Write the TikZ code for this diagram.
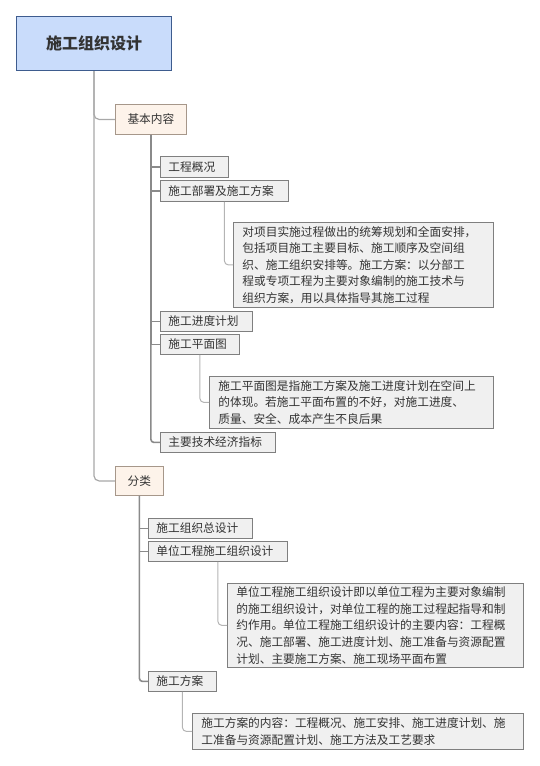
\documentclass[tikz,border=0pt]{standalone}
\usepackage{fontspec}
\setmainfont{Noto Sans CJK SC}
\definecolor{rootfill}{HTML}{C9DCFB}
\definecolor{rootdraw}{HTML}{3E5C8E}
\definecolor{catfill}{HTML}{FDF3EA}
\definecolor{catdraw}{HTML}{A6978A}
\definecolor{boxfill}{HTML}{F0F0F0}
\definecolor{boxdraw}{HTML}{7F7F7F}
\definecolor{txt}{HTML}{333333}
\definecolor{trunkA}{HTML}{A8A8A8}
\definecolor{trunkB}{HTML}{8A8A8A}
\definecolor{trunkC}{HTML}{B4B4B4}
\tikzset{
  base/.style={anchor=north west, inner sep=0pt, text=txt},
  rootbox/.style={base, draw=rootdraw, fill=rootfill, line width=1pt, font=\fontsize{16}{18}\selectfont\bfseries},
  catbox/.style={base, draw=catdraw, fill=catfill, line width=0.8pt, font=\fontsize{11.7}{14}\selectfont},
  itembox/.style={base, draw=boxdraw, fill=boxfill, line width=0.8pt, font=\fontsize{11.7}{14}\selectfont, align=left, text width=#1, inner xsep=8pt},
  descbox/.style={base, draw=boxdraw, fill=boxfill, line width=0.8pt, font=\fontsize{11.7}{16.6}\selectfont, align=left, text width=#1, inner xsep=9pt},
  lineA/.style={draw=trunkA, line width=1.2pt, rounded corners=5pt},
  lineB/.style={draw=trunkB, line width=1.6pt, rounded corners=3pt},
  lineC/.style={draw=trunkC, line width=1pt, rounded corners=4pt},
}
\begin{document}
\begin{tikzpicture}[x=1pt,y=-1pt]
\useasboundingbox (0,0) rectangle (539,766);
% nodes
\node[rootbox, minimum width=155, minimum height=54] (root) at (16,16) {施工组织设计};
\node[catbox, minimum width=71, minimum height=30] (jb) at (115,104) {基本内容};
\node[itembox=52, minimum height=21] (gk) at (160,156) {工程概况};
\node[itembox=112, minimum height=21] (bs) at (160,180) {施工部署及施工方案};
\node[descbox=242, minimum height=85] (d1) at (233,222) {对项目实施过程做出的统筹规划和全面安排，\\包括项目施工主要目标、施工顺序及空间组\\织、施工组织安排等。施工方案：以分部工\\程或专项工程为主要对象编制的施工技术与\\组织方案，用以具体指导其施工过程};
\node[itembox=76, minimum height=20] (jd) at (160,311) {施工进度计划};
\node[itembox=63, minimum height=20] (pm) at (160,334) {施工平面图};
\node[descbox=266, minimum height=52] (d2) at (209,376) {施工平面图是指施工方案及施工进度计划在空间上\\的体现。若施工平面布置的不好，对施工进度、\\质量、安全、成本产生不良后果};
\node[itembox=99, minimum height=20] (zb) at (160,432) {主要技术经济指标};
\node[catbox, minimum width=48, minimum height=29] (fl) at (115,466) {分类};
\node[itembox=88, minimum height=20] (zs) at (148,518) {施工组织总设计};
\node[itembox=123, minimum height=20] (dw) at (148,541) {单位工程施工组织设计};
\node[descbox=278, minimum height=84] (d3) at (227,583) {单位工程施工组织设计即以单位工程为主要对象编制\\的施工组织设计，对单位工程的施工过程起指导和制\\约作用。单位工程施工组织设计的主要内容：工程概\\况、施工部署、施工进度计划、施工准备与资源配置\\计划、主要施工方案、施工现场平面布置};
\node[itembox=52, minimum height=20] (fa) at (148,671) {施工方案};
\node[descbox=313, minimum height=36] (d4) at (192,713) {施工方案的内容：工程概况、施工安排、施工进度计划、施\\工准备与资源配置计划、施工方法及工艺要求};
% connectors
\path[lineA] (root.south) |- (fl.west);
\path[lineA] (root.south) |- (jb.west);
\path[lineB] (jb.south) |- (zb.west);
\path[lineB,rounded corners=0pt] (jb.south) |- (gk.west);
\path[lineB,rounded corners=0pt] (jb.south) |- (bs.west);
\path[lineB,rounded corners=0pt] (jb.south) |- (jd.west);
\path[lineB,rounded corners=0pt] (jb.south) |- (pm.west);
\path[lineB] (fl.south) |- (fa.west);
\path[lineB,rounded corners=0pt] (fl.south) |- (zs.west);
\path[lineB,rounded corners=0pt] (fl.south) |- (dw.west);
\path[lineC] (bs.south) |- (d1.west);
\path[lineC] (pm.south) |- (d2.west);
\path[lineC] (dw.south) |- (d3.west);
\path[lineC] (fa.south) |- (d4.west);
\end{tikzpicture}
\end{document}
